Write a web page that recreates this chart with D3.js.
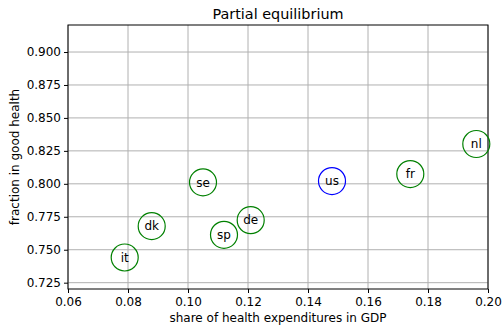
<!DOCTYPE html>
<html>
<head>
<meta charset="utf-8">
<script src="https://cdn.jsdelivr.net/npm/d3@7"></script>
<style>
  body { margin: 0; background: #fff; }
  text { font-family: "DejaVu Sans", sans-serif; fill: #000; }
</style>
</head>
<body>
<div id="chart"></div>
<script>
const width = 503;
const height = 325;
const MARGIN = { top: 25, right: 15, bottom: 36, left: 68 };
const RADIUS = 13.5;
const FONT = 12;

// countries, health spending share and fraction in good health
const countries = ['it', 'dk', 'se', 'sp', 'de', 'us', 'fr', 'nl'];
const spending = [0.0789, 0.0879, 0.105, 0.112, 0.1209, 0.148, 0.1741, 0.1961];
const goodHealth = [0.7441, 0.7679, 0.8011, 0.7613, 0.7724, 0.8021, 0.8074, 0.8302];
const xTicks = [0.06, 0.08, 0.10, 0.12, 0.14, 0.16, 0.18, 0.20];
const yTicks = [0.725, 0.75, 0.775, 0.8, 0.825, 0.85, 0.875, 0.9];

const w = width - MARGIN.left - MARGIN.right;
const h = height - MARGIN.top - MARGIN.bottom;

const svg = d3.select('#chart')
  .append('svg')
  .attr('width', width)
  .attr('height', height);

const g = svg.append('g')
  .attr('transform', 'translate(' + MARGIN.left + ',' + MARGIN.top + ')');

const x = d3.scaleLinear().domain([0.06, 0.20]).range([0, w]);
const y = d3.scaleLinear().domain([0.7202, 0.9205]).range([h, 0]);

// grid
g.append('g')
  .selectAll('line')
  .data(xTicks)
  .join('line')
  .attr('x1', d => x(d)).attr('x2', d => x(d))
  .attr('y1', 0).attr('y2', h)
  .attr('stroke', '#b0b0b0').attr('stroke-width', 1);
g.append('g')
  .selectAll('line')
  .data(yTicks)
  .join('line')
  .attr('y1', d => y(d)).attr('y2', d => y(d))
  .attr('x1', 0).attr('x2', w)
  .attr('stroke', '#b0b0b0').attr('stroke-width', 1);

// axes
const xAxis = g.append('g')
  .attr('transform', 'translate(0,' + h + ')')
  .call(d3.axisBottom(x).tickValues(xTicks).tickFormat(d3.format('.2f')).tickSize(4).tickSizeOuter(0));
const yAxis = g.append('g')
  .call(d3.axisLeft(y).tickValues(yTicks).tickFormat(d3.format('.3f')).tickSize(4).tickSizeOuter(0));
[xAxis, yAxis].forEach(a => {
  a.select('.domain').remove();
  a.selectAll('line').attr('stroke', '#000').attr('stroke-width', 1);
  a.selectAll('text').style('font-family', '"DejaVu Sans", sans-serif').style('font-size', FONT + 'px').attr('fill', '#000');
});
xAxis.selectAll('text').attr('dy', '0.95em').attr('y', 6);
yAxis.selectAll('text').attr('x', -7);

// frame
g.append('rect')
  .attr('width', w).attr('height', h)
  .attr('fill', 'none').attr('stroke', '#000').attr('stroke-width', 1);

// points
const pts = g.append('g')
  .selectAll('g')
  .data(countries)
  .join('g')
  .attr('transform', (d, i) => 'translate(' + x(spending[i]) + ',' + y(goodHealth[i]) + ')');
pts.append('circle')
  .attr('r', RADIUS)
  .attr('fill', 'none')
  .attr('stroke', d => d === 'us' ? '#0000ff' : '#008000')
  .attr('stroke-width', 1.2);
pts.append('text')
  .attr('text-anchor', 'middle')
  .attr('dy', '0.35em')
  .style('font-size', FONT + 'px')
  .text(d => d);

// labels
svg.append('text')
  .attr('x', MARGIN.left + w / 2).attr('y', 19)
  .attr('text-anchor', 'middle')
  .style('font-size', '14.4px')
  .text('Partial equilibrium');
svg.append('text')
  .attr('x', MARGIN.left + w / 2).attr('y', 322)
  .attr('text-anchor', 'middle')
  .style('font-size', FONT + 'px')
  .text('share of health expenditures in GDP');
svg.append('text')
  .attr('transform', 'translate(19,' + (MARGIN.top + h / 2) + ') rotate(-90)')
  .attr('text-anchor', 'middle')
  .style('font-size', FONT + 'px')
  .text('fraction in good health');
</script>
</body>
</html>
